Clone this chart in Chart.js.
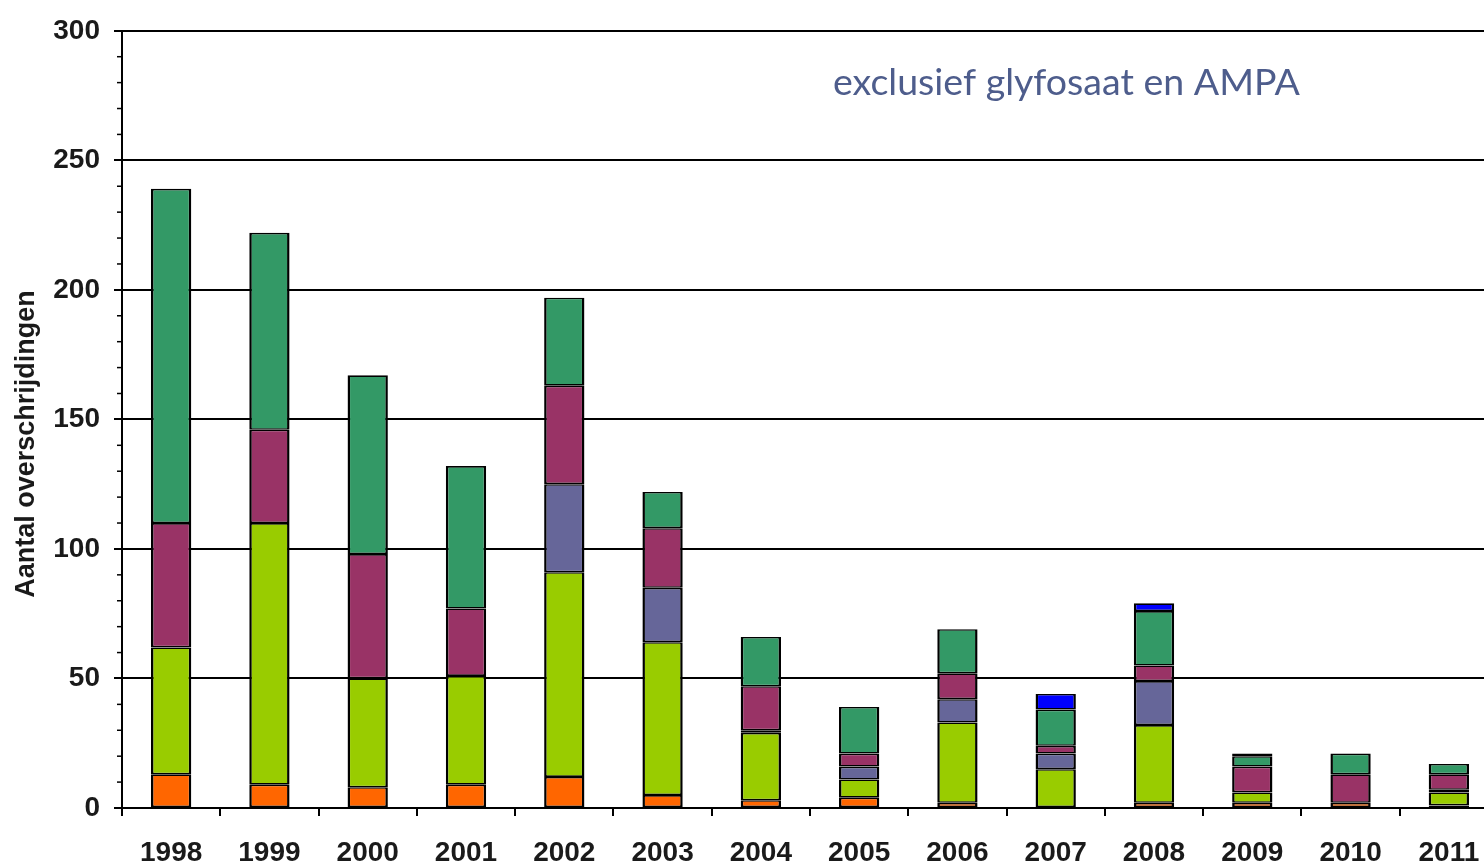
<!DOCTYPE html>
<html>
<head>
<meta charset="utf-8">
<script src="https://cdn.jsdelivr.net/npm/chart.js@4.4.1/dist/chart.umd.min.js"></script>
<style>
  html, body { margin: 0; padding: 0; background: #fff; overflow: hidden; }
  #wrap { width: 1500px; height: 863px; }
</style>
</head>
<body>
<div id="wrap"><canvas id="chart" width="1500" height="863"></canvas></div>
<script>
const years = ['1998', '1999', '2000', '2001', '2002', '2003', '2004',
  '2005', '2006', '2007', '2008', '2009', '2010', '2011'];

// stacked from the bottom up
const orange = [13, 9, 8, 9, 12, 5, 3, 4, 2, 0, 2, 2, 2, 1];
const lime   = [49, 101, 42, 42, 79, 59, 26, 7, 31, 15, 30, 4, 0, 5];
const slate  = [0, 0, 0, 0, 34, 21, 1, 5, 9, 6, 17, 0, 0, 1];
const maroon = [48, 36, 48, 26, 38, 23, 17, 5, 10, 3, 6, 10, 11, 6];
const teal   = [129, 76, 69, 55, 34, 14, 19, 18, 17, 14, 21, 4, 8, 4];
const blue   = [0, 0, 0, 0, 0, 0, 0, 0, 0, 6, 3, 1, 0, 0];

const yTicks = [0, 50, 100, 150, 200, 250, 300];
const yTitle = 'Aantal overschrijdingen';
const note = 'exclusief glyfosaat en AMPA';

const axisFont = { family: 'Liberation Sans, Arial, sans-serif', size: 28, weight: 'bold' };

function series(data, color) {
  return {
    data: data,
    backgroundColor: color,
    borderColor: '#000',
    borderWidth: { top: 1.6, bottom: 1.6, left: 2.5, right: 2.5 },
    borderSkipped: false,
    inflateAmount: 0,
    categoryPercentage: 1,
    barPercentage: 0.41
  };
}

// minor y ticks, axis title and the note inside the plot
const extras = {
  id: 'extras',
  afterDraw(chart) {
    const ctx = chart.ctx;
    const y = chart.scales.y;
    const left = chart.chartArea.left;
    ctx.save();
    ctx.strokeStyle = '#000';
    ctx.lineWidth = 1.5;
    for (let v = 0; v <= 300; v += 10) {
      if (v % 50 === 0) continue;
      const py = y.getPixelForValue(v);
      ctx.beginPath();
      ctx.moveTo(left - 5, py);
      ctx.lineTo(left, py);
      ctx.stroke();
    }

    ctx.fillStyle = '#1a1a1a';
    ctx.font = 'bold 27px "Liberation Sans", Arial, sans-serif';
    ctx.textAlign = 'center';
    ctx.textBaseline = 'middle';
    ctx.translate(27, 444);
    ctx.rotate(-Math.PI / 2);
    ctx.fillText(yTitle, 0, 0);
    ctx.restore();

    ctx.save();
    let size = 32;
    ctx.font = size + 'px Lato, "Open Sans", sans-serif';
    size = size * 467 / ctx.measureText(note).width;
    ctx.font = size + 'px Lato, "Open Sans", sans-serif';
    ctx.fillStyle = '#4e5d8c';
    ctx.textAlign = 'left';
    ctx.textBaseline = 'alphabetic';
    ctx.fillText(note, 833, 95);
    ctx.restore();
  }
};

new Chart(document.getElementById('chart'), {
  type: 'bar',
  data: {
    labels: years,
    datasets: [
      series(orange, '#FF6600'),
      series(lime, '#99CC00'),
      series(slate, '#666699'),
      series(maroon, '#993366'),
      series(teal, '#339966'),
      series(blue, '#0000FF')
    ]
  },
  options: {
    responsive: false,
    animation: false,
    events: [],
    layout: { padding: { top: 29, right: 2, bottom: 0, left: 0 } },
    plugins: {
      legend: { display: false },
      tooltip: { enabled: false }
    },
    scales: {
      x: {
        stacked: true,
        afterFit(scale) { scale.height = 55; },
        grid: { drawOnChartArea: false, color: '#000', lineWidth: 2, tickLength: 8 },
        border: { color: '#000', width: 2 },
        ticks: { color: '#1a1a1a', font: axisFont, padding: 20, maxRotation: 0 }
      },
      y: {
        stacked: true,
        min: 0,
        max: 300,
        afterFit(scale) { scale.width = 122; },
        afterBuildTicks(scale) { scale.ticks = yTicks.map(v => ({ value: v })); },
        grid: { color: '#000', lineWidth: 2, tickLength: 8 },
        border: { color: '#000', width: 2 },
        ticks: { color: '#1a1a1a', font: axisFont, padding: 14 }
      }
    }
  },
  plugins: [extras]
});
</script>
</body>
</html>
